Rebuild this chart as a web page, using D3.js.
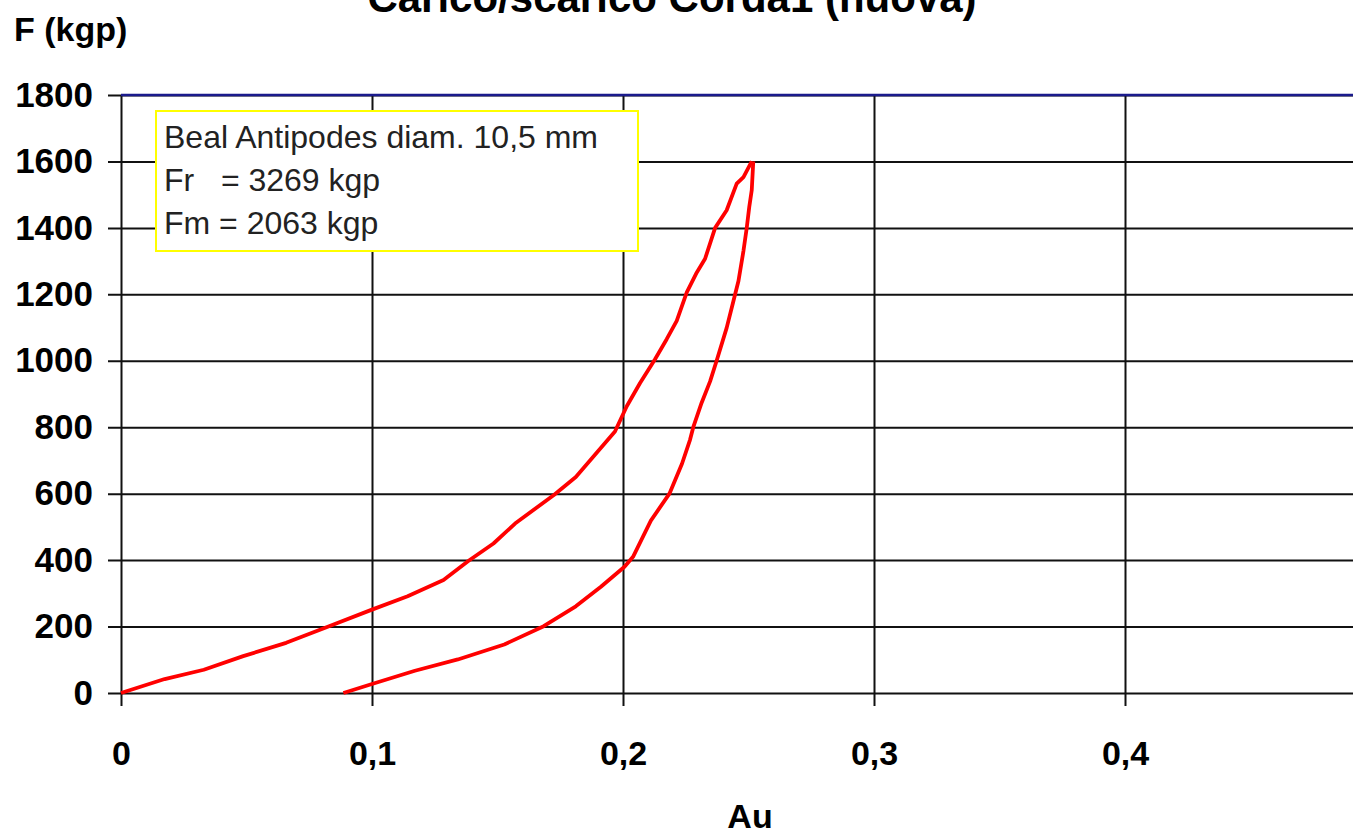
<!DOCTYPE html>
<html>
<head>
<meta charset="utf-8">
<script src="https://cdn.jsdelivr.net/npm/d3@7"></script>
<style>
  body { margin: 0; background: #fff; overflow: hidden; }
  svg { display: block; font-family: "Liberation Sans", Arial, sans-serif; }
</style>
</head>
<body>
<div id="chart"></div>
<script>
// loading curve (carico)
var loadAu = [0, 0.0174, 0.033, 0.0487, 0.0658, 0.0829, 0.1, 0.1142, 0.1285, 0.1385, 0.1484, 0.157,
  0.1726, 0.1812, 0.1968, 0.2015, 0.2068, 0.2127, 0.2174, 0.2214, 0.2254, 0.2294, 0.2327, 0.2367,
  0.2413, 0.2453, 0.248, 0.2513];
var loadF = [0, 42, 70, 111, 151, 201, 251, 291, 340, 398, 450, 510,
  597, 650, 787, 863, 933, 1004, 1065, 1120, 1206, 1266, 1307, 1400,
  1453, 1533, 1553, 1600];

// unloading curve (scarico)
var unloadAu = [0.2519, 0.2513, 0.2503, 0.2493, 0.248, 0.246, 0.244, 0.2413, 0.2373, 0.2347, 0.2313,
  0.228, 0.2267, 0.2235, 0.2185, 0.2111, 0.204, 0.2006, 0.1912, 0.1812, 0.1684, 0.1527, 0.1342,
  0.1171, 0.1, 0.0886];
var unloadF = [1600, 1514, 1463, 1400, 1331, 1240, 1180, 1099, 1000, 938, 873,
  800, 762, 690, 600, 519, 410, 380, 320, 261, 201, 146, 101,
  67, 27, 0];

var yTicks = [0, 200, 400, 600, 800, 1000, 1200, 1400, 1600, 1800];
var xTicks = [0, 0.1, 0.2, 0.3, 0.4, 0.5];
var xTickLabels = ["0", "0,1", "0,2", "0,3", "0,4", "0,5"];

var noteLines = ["Beal Antipodes diam. 10,5 mm", "Fr   = 3269 kgp", "Fm = 2063 kgp"];
var title = "Carico/scarico Corda1 (nuova)";

var W = 1353, H = 831;
var margin = {top: 95, left: 121};
var plotH = 598;

var svg = d3.select("#chart").append("svg")
  .attr("width", W)
  .attr("height", H);

var x = d3.scaleLinear().domain([0, 0.5]).range([margin.left, margin.left + 1255]);
var y = d3.scaleLinear().domain([0, 1800]).range([margin.top + plotH, margin.top]);

// y axis with gridlines
var gy = svg.append("g")
  .attr("transform", "translate(" + margin.left + ",0)")
  .call(d3.axisLeft(y).tickValues(yTicks).tickSize(13).tickPadding(15).tickFormat(d3.format("d")));
gy.select(".domain").remove();
gy.selectAll(".tick line")
  .attr("x1", W - margin.left)
  .attr("stroke", "#111")
  .attr("stroke-width", 2);
gy.selectAll(".tick text")
  .attr("font-size", 35)
  .attr("font-weight", "bold")
  .attr("fill", "#000");

// x axis with gridlines
var gx = svg.append("g")
  .attr("transform", "translate(0," + (margin.top + plotH) + ")")
  .call(d3.axisBottom(x).tickValues(xTicks).tickSize(13).tickPadding(35)
    .tickFormat(function(d, i) { return xTickLabels[i]; }));
gx.select(".domain").remove();
gx.selectAll(".tick line")
  .attr("y1", -plotH)
  .attr("stroke", "#111")
  .attr("stroke-width", 2);
gx.selectAll(".tick text")
  .attr("font-size", 34)
  .attr("font-weight", "bold")
  .attr("fill", "#000");

// plot area top border (navy)
svg.append("line")
  .attr("x1", margin.left).attr("x2", W)
  .attr("y1", y(1800)).attr("y2", y(1800))
  .attr("stroke", "#1a1a8c")
  .attr("stroke-width", 2.5);

// curves
var line = d3.line()
  .x(function(d) { return x(d[0]); })
  .y(function(d) { return y(d[1]); });

var loadData = d3.zip(loadAu, loadF);
var unloadData = d3.zip(unloadAu, unloadF);

svg.append("path")
  .datum(loadData)
  .attr("fill", "none")
  .attr("stroke", "#ff0000")
  .attr("stroke-width", 3.8)
  .attr("stroke-linejoin", "round")
  .attr("d", line);

svg.append("path")
  .datum(unloadData)
  .attr("fill", "none")
  .attr("stroke", "#ff0000")
  .attr("stroke-width", 3.8)
  .attr("stroke-linejoin", "round")
  .attr("d", line);

// note box
svg.append("rect")
  .attr("x", 156).attr("y", 111)
  .attr("width", 482).attr("height", 140)
  .attr("fill", "#fff")
  .attr("stroke", "#ffff00")
  .attr("stroke-width", 2);

svg.append("g").selectAll("text")
  .data(noteLines)
  .join("text")
  .attr("x", 164)
  .attr("y", function(d, i) { return 148 + i * 43; })
  .attr("font-size", 32)
  .attr("fill", "#222")
  .style("white-space", "pre")
  .text(function(d) { return d; });

// titles
svg.append("text")
  .attr("x", 672).attr("y", 12)
  .attr("text-anchor", "middle")
  .attr("font-size", 42)
  .attr("font-weight", "bold")
  .text(title);

svg.append("text")
  .attr("x", 14).attr("y", 41)
  .attr("font-size", 34)
  .attr("font-weight", "bold")
  .text("F (kgp)");

svg.append("text")
  .attr("x", 750).attr("y", 828)
  .attr("text-anchor", "middle")
  .attr("font-size", 34)
  .attr("font-weight", "bold")
  .text("Au");
</script>
</body>
</html>
